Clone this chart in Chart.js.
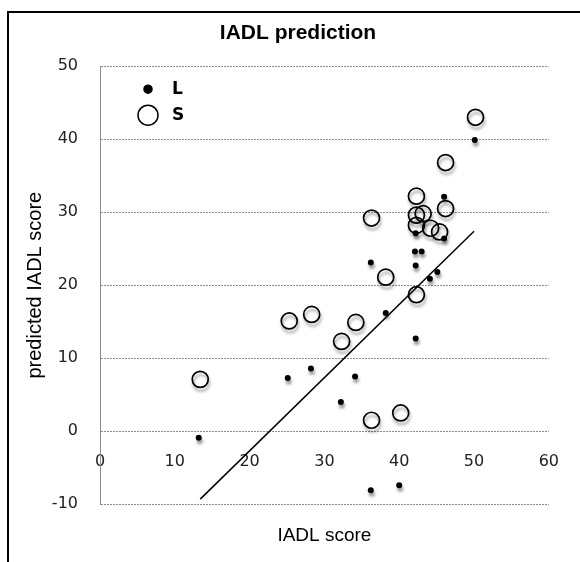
<!DOCTYPE html>
<html>
<head>
<meta charset="utf-8">
<script src="https://cdn.jsdelivr.net/npm/chart.js@4/dist/chart.umd.min.js"></script>
<style>
  html, body { margin: 0; padding: 0; background: #fff; }
  #wrap { width: 580px; height: 562px; }
</style>
</head>
<body>
<div id="wrap"><canvas id="chartIadl"></canvas></div>
<script>
// Datos
const lX = [13.2, 25.1, 28.2, 32.2, 34.1, 36.2, 36.2, 38.2, 40.0, 42.2, 42.2, 42.1, 43.0, 42.2, 44.1, 45.1, 46.0, 46.0, 50.1];
const lY = [-0.9, 7.3, 8.6, 4.0, 7.5, 23.1, -8.1, 16.2, -7.4, 12.7, 22.7, 24.6, 24.6, 27.1, 20.9, 21.8, 26.4, 32.1, 39.9];
const sX = [13.4, 25.3, 28.3, 32.3, 34.2, 36.3, 36.3, 38.2, 40.2, 42.3, 42.3, 42.3, 43.2, 42.3, 44.2, 45.4, 46.2, 46.2, 50.2];
const sY = [7.1, 15.1, 16.0, 12.3, 14.9, 29.2, 1.5, 21.1, 2.5, 18.7, 28.2, 29.6, 29.8, 32.2, 27.8, 27.3, 30.5, 36.8, 43.0];
// recta de ajuste (extremos)
const fitX = [13.4, 50.0];
const fitY = [-9.3, 27.4];
const xTicks = [0, 10, 20, 30, 40, 50, 60];
const yTicks = [-10, 0, 10, 20, 30, 40, 50];

const toPts = (xs, ys) => xs.map((x, i) => ({ x: x, y: ys[i] }));
const fontFam = '"Liberation Sans", Arial, sans-serif';
const tickFam = '"DejaVu Sans", sans-serif';

// marco negro (izquierda y arriba)
const marco = {
    id: 'marco',
    beforeDraw(chart) {
        const ctx = chart.ctx;
        ctx.save();
        ctx.strokeStyle = '#000';
        ctx.lineWidth = 2;
        ctx.beginPath();
        ctx.moveTo(8, chart.height);
        ctx.lineTo(8, 12);
        ctx.lineTo(chart.width, 12);
        ctx.stroke();
        ctx.restore();
    }
};

// sombra gris debajo de los puntos
const sombra = {
    id: 'sombra',
    beforeDatasetDraw(chart, args) {
        const ds = chart.data.datasets[args.index];
        if (!ds.sombra) return;
        const ctx = chart.ctx;
        ctx.save();
        ctx.shadowColor = 'rgba(0,0,0,0.4)';
        ctx.shadowOffsetX = 1;
        ctx.shadowOffsetY = 3.5;
        ctx.shadowBlur = 3;
    },
    afterDatasetDraw(chart, args) {
        const ds = chart.data.datasets[args.index];
        if (!ds.sombra) return;
        chart.ctx.restore();
    }
};

// leyenda dentro del área del gráfico
const leyenda = {
    id: 'leyenda',
    afterDatasetsDraw(chart) {
        const ctx = chart.ctx;
        const a = chart.chartArea;
        let y = a.top + 23;
        chart.data.datasets.forEach(ds => {
            if (!ds.leyendaR) return;
            const x = a.left + 48;
            ctx.save();
            ctx.beginPath();
            ctx.arc(x, y, ds.leyendaR, 0, Math.PI * 2);
            ctx.lineWidth = 1.5;
            ctx.strokeStyle = '#000';
            if (ds.backgroundColor !== 'transparent') {
                ctx.fillStyle = ds.backgroundColor;
                ctx.fill();
            }
            ctx.stroke();
            ctx.fillStyle = '#000';
            ctx.font = 'bold 17px "DejaVu Sans", sans-serif';
            ctx.textBaseline = 'middle';
            ctx.fillText(ds.label, x + 24, y);
            ctx.restore();
            y += 26;
        });
    }
};

const gridColor = '#8c8c8c';

new Chart(document.getElementById('chartIadl'), {
    type: 'scatter',
    data: {
        datasets: [
            {
                label: 'L',
                data: toPts(lX, lY),
                pointRadius: 3,
                pointBackgroundColor: '#000',
                backgroundColor: '#000',
                borderColor: '#000',
                pointBorderWidth: 0,
                sombra: true,
                leyendaR: 4
            },
            {
                label: 'S',
                data: toPts(sX, sY),
                pointRadius: 8,
                pointBackgroundColor: 'transparent',
                backgroundColor: 'transparent',
                borderColor: '#000',
                pointBorderWidth: 1.7,
                sombra: true,
                leyendaR: 10
            },
            {
                type: 'line',
                label: 'fit',
                data: toPts(fitX, fitY),
                borderColor: '#000',
                borderWidth: 1.5,
                pointRadius: 0,
                fill: false
            }
        ]
    },
    options: {
        responsive: true,
        maintainAspectRatio: false,
        animation: false,
        layout: { padding: { top: 12, left: 16, right: 0, bottom: 0 } },
        plugins: {
            legend: { display: false },
            tooltip: { enabled: false },
            title: {
                display: true,
                text: 'IADL prediction',
                color: '#000',
                font: { family: fontFam, size: 21, weight: 'bold' },
                padding: { top: 9, bottom: 20 }
            }
        },
        scales: {
            x: {
                type: 'linear',
                position: 'bottom',
                min: 0,
                max: 60,
                grid: { display: false, drawTicks: false },
                border: { display: false },
                ticks: { display: false },
                title: {
                    display: true,
                    text: 'IADL score',
                    color: '#000',
                    font: { family: fontFam, size: 19 },
                    padding: { top: 20, bottom: 15 }
                }
            },
            x2: {
                type: 'linear',
                axis: 'x',
                position: { y: 0 },
                min: 0,
                max: 60,
                grid: { display: false, drawTicks: false },
                border: { display: false },
                afterBuildTicks: s => { s.ticks = xTicks.map(v => ({ value: v })); },
                ticks: {
                    color: '#222',
                    padding: 21,
                    font: { family: tickFam, size: 16 }
                }
            },
            y: {
                type: 'linear',
                min: -10,
                max: 50,
                afterFit: s => { s.width = 84; },
                afterBuildTicks: s => { s.ticks = yTicks.map(v => ({ value: v })); },
                grid: { color: gridColor, lineWidth: 1, drawTicks: false },
                border: { display: true, color: gridColor, dash: [2, 1] },
                ticks: {
                    color: '#222',
                    padding: 22,
                    font: { family: tickFam, size: 16 }
                },
                title: {
                    display: true,
                    text: 'predicted IADL score',
                    color: '#000',
                    font: { family: fontFam, size: 20 },
                    padding: { top: 7, bottom: 0 }
                }
            },
            // eje vacío a la derecha, solo reserva el margen
            yR: {
                type: 'linear',
                position: 'right',
                afterFit: s => { s.width = 31; },
                grid: { display: false, drawTicks: false },
                border: { display: false },
                ticks: { display: false }
            }
        }
    },
    plugins: [marco, sombra, leyenda]
});
</script>
</body>
</html>
